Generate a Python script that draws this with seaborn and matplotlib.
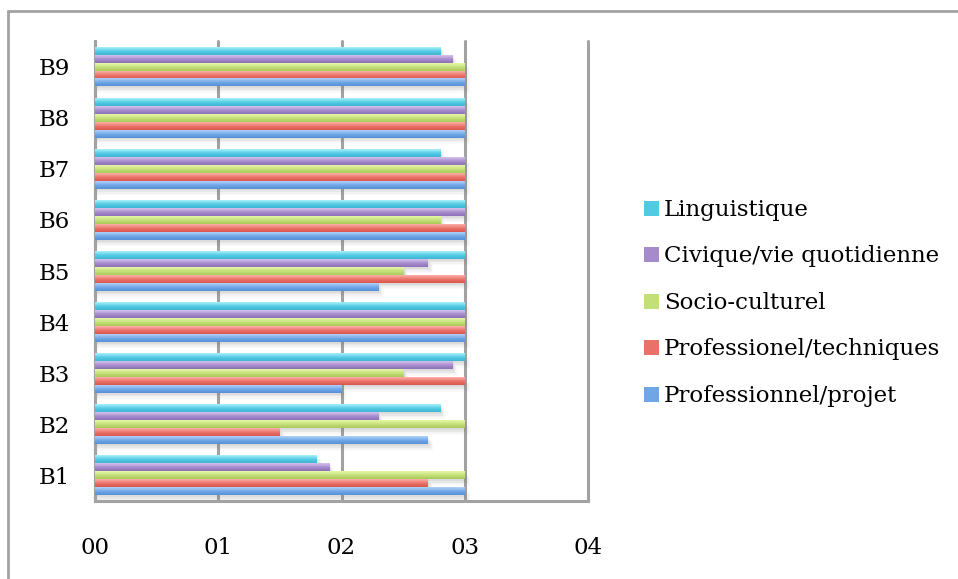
import numpy as np
import pandas as pd
import matplotlib
matplotlib.use("Agg")
import matplotlib.pyplot as plt
from matplotlib.colors import to_rgb
from matplotlib.lines import Line2D
from matplotlib.patches import Rectangle
import seaborn as sns

# Scores per block (B1..B9) for each competence domain
blocks = ["B1", "B2", "B3", "B4", "B5", "B6", "B7", "B8", "B9"]
prof_projet = [3.0, 2.7, 2.0, 3.0, 2.3, 3.0, 3.0, 3.0, 3.0]
prof_techniques = [2.7, 1.5, 3.0, 3.0, 3.0, 3.0, 3.0, 3.0, 3.0]
socio_culturel = [3.0, 3.0, 2.5, 3.0, 2.5, 2.8, 3.0, 3.0, 3.0]
civique = [1.9, 2.3, 2.9, 3.0, 2.7, 3.0, 3.0, 3.0, 2.9]
linguistique = [1.8, 2.8, 3.0, 3.0, 3.0, 3.0, 2.8, 3.0, 2.8]

series_names = ["Linguistique", "Civique/vie quotidienne", "Socio-culturel",
                "Professionel/techniques", "Professionnel/projet"]
series_values = [linguistique, civique, socio_culturel, prof_techniques, prof_projet]
x_tick_labels = ["00", "01", "02", "03", "04"]

# (light top, base, dark bottom) for each domain
palette = {
    "Linguistique": ("#a9f2fc", "#52cae3", "#3fb5d2"),
    "Civique/vie quotidienne": ("#d6c2ee", "#a68bcc", "#8e71b8"),
    "Socio-culturel": ("#e6f8a8", "#c3df78", "#a9c95a"),
    "Professionel/techniques": ("#fbb1aa", "#ea7168", "#d8554d"),
    "Professionnel/projet": ("#b0d2fa", "#6fa6e6", "#5590d6"),
}

rows = []
for name, vals in zip(series_names, series_values):
    for b, v in zip(blocks, vals):
        rows.append({"block": b, "domain": name, "score": v})
df = pd.DataFrame(rows)

sns.set_style("white")
plt.rcParams["font.family"] = ["DejaVu Serif"]
plt.rcParams["text.color"] = "black"
plt.rcParams["xtick.labelcolor"] = "black"
plt.rcParams["ytick.labelcolor"] = "black"
grid_col = "#a2a2a2"
fs = 16.5

fig = plt.figure(figsize=(9.58, 5.79), dpi=100)
ax = fig.add_axes([0.0992, 0.1347, 0.5146, 0.7945])

block_order = blocks[::-1]
sns.barplot(data=df, y="block", x="score", hue="domain", order=block_order,
            hue_order=series_names, palette={k: v[1] for k, v in palette.items()},
            orient="h", width=0.78, dodge=True, errorbar=None, ax=ax,
            linewidth=0, legend=True, zorder=3)

# Paint each bar with a vertical gradient and a soft shadow
bars = [p for p in ax.patches if isinstance(p, Rectangle) and p.get_width() > 0]
for i, p in enumerate(bars):
    name = series_names[i // len(blocks)]
    light, base, dark = [np.array(to_rgb(c)) for c in palette[name]]
    t = np.linspace(0, 1, 40)[:, None]
    grad = np.where(t < 0.55, light + (base - light) * (t / 0.55),
                    base + (dark - base) * ((t - 0.55) / 0.45))
    x0, y0, w, h = p.get_x(), p.get_y(), p.get_width(), p.get_height()
    ax.imshow(grad[:, None, :], extent=(x0, x0 + w, y0 + h, y0), origin="upper",
              aspect="auto", zorder=3.5, interpolation="bilinear")
    for k, a in enumerate([0.10, 0.08, 0.06, 0.04]):
        off = 0.035 + 0.03 * k
        ax.add_patch(Rectangle((x0, y0 + off), w + 0.012 + 0.01 * k, h,
                               facecolor="#7a7a7a", alpha=a, linewidth=0, zorder=2))
    p.set_alpha(0)

ax.set_xlim(0, 4)
ax.set_ylim(len(blocks) - 0.5, -0.5)

ax.set_xticks(range(5))
ax.set_xticklabels(x_tick_labels)
ax.set_yticks(range(len(blocks)))
ax.set_yticks(np.arange(-0.5, len(blocks)), minor=True)
ax.tick_params(axis="y", which="major", length=0, pad=18, labelsize=fs,
               labelcolor="black")
ax.tick_params(axis="y", which="minor", length=8, width=2.2, color=grid_col)
ax.tick_params(axis="x", which="major", length=8, width=2.2, color=grid_col,
               pad=18, labelsize=fs, labelcolor="black")
ax.set_xlabel("")
ax.set_ylabel("")

ax.grid(axis="x", color=grid_col, linewidth=2.2)
ax.grid(axis="y", visible=False)
ax.set_axisbelow(True)
for gl in ax.get_xgridlines():
    gl.set_clip_on(False)
for side in ["top", "right"]:
    ax.spines[side].set_visible(False)
for side in ["left", "bottom"]:
    ax.spines[side].set_color(grid_col)
    ax.spines[side].set_linewidth(2.2)

handles, labels = ax.get_legend_handles_labels()
ax.legend_.remove()
sq = [Line2D([], [], marker="s", linestyle="none", markersize=10.8,
             markerfacecolor=palette[l][1], markeredgewidth=0) for l in labels]
fig.legend(sq, labels, loc="center left", bbox_to_anchor=(0.672, 0.477),
           frameon=False, fontsize=fs, handlelength=0.6, handletextpad=0.27,
           labelspacing=1.07, borderaxespad=0, borderpad=0, labelcolor="black")

# Chart frame (runs off the right and bottom edges)
fig.add_artist(Line2D([8 / 958, 1.0], [1 - 11 / 579] * 2, transform=fig.transFigure,
                      color=grid_col, linewidth=2))
fig.add_artist(Line2D([8 / 958] * 2, [0.0, 1 - 11 / 579], transform=fig.transFigure,
                      color=grid_col, linewidth=2))

fig.savefig("out.png", dpi=100, facecolor="white")
